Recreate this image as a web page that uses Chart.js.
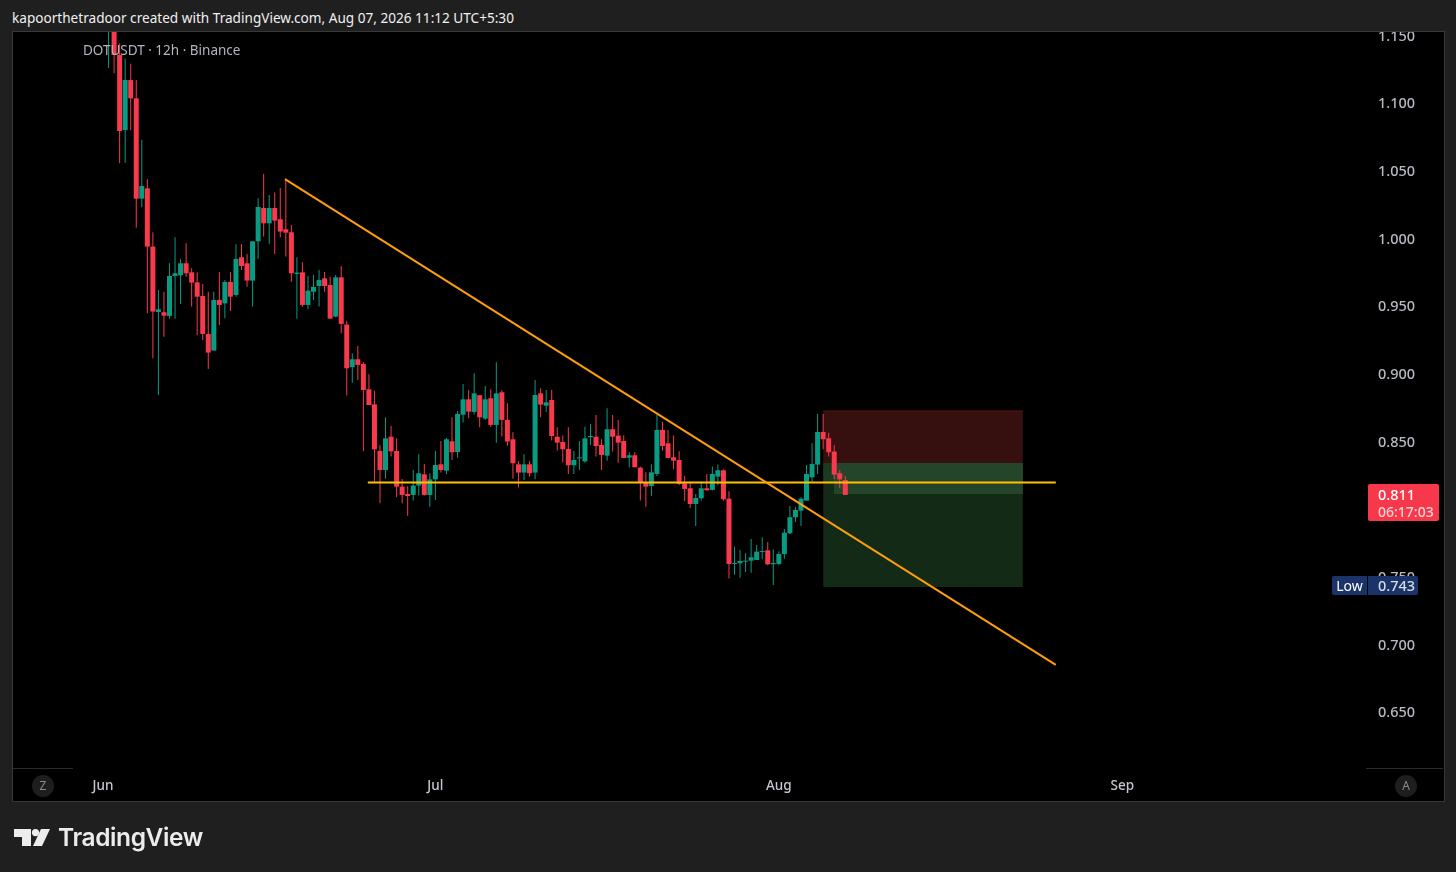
<!DOCTYPE html>
<html><head><meta charset="utf-8">
<style>
html,body{margin:0;padding:0;background:#1f1f1f;width:1456px;height:872px;overflow:hidden;font-family:"Noto Sans",Roboto,sans-serif}
.abs{position:absolute;white-space:nowrap}
#panel{left:12px;top:31px;width:1431px;height:769px;border:1px solid #383838;background:#000;overflow:hidden}
#panel canvas{position:absolute;left:0;top:0}
</style></head><body>
<div class="abs" style="left:12px;top:9px;font-size:13.6px;line-height:18px;color:#f0f0f0">kapoorthetradoor created with TradingView.com, Aug 07, 2026 11:12 UTC+5:30</div>
<div id="panel" class="abs"><canvas id="c" width="1431" height="769"></canvas></div>
<div class="abs" style="left:83px;top:41px;font-size:13.5px;line-height:18px;color:#b2b5be">DOTUSDT · 12h · Binance</div>
<div class="abs" style="left:13px;top:768px;width:60px;height:1px;background:#2a2a2a"></div>
<div class="abs" style="left:1366px;top:768px;width:77px;height:1px;background:#2a2a2a"></div>
<div class="abs" style="left:32px;top:775px;width:22px;height:22px;border-radius:11px;background:#1e1e1e;color:#8a8a8a;font-size:12px;line-height:22px;text-align:center">Z</div>
<div class="abs" style="left:1395px;top:775px;width:22px;height:22px;border-radius:11px;background:#1e1e1e;color:#8a8a8a;font-size:12px;line-height:22px;text-align:center">A</div>
<div class="abs" style="left:1368px;top:484px;width:71px;height:37px;border-radius:2px;background:#f7374a;color:#fff;font-size:14.5px;line-height:17px;font-weight:500"><div style="padding:2px 0 0 10px">0.811</div><div style="padding-left:10px;color:#ffd3d7;font-size:14px">06:17:03</div></div>
<div class="abs" style="left:1332px;top:576px;width:35px;height:19px;border-radius:2px 0 0 2px;background:#1a3368;color:#fff;font-size:14px;line-height:19px;text-align:center">Low</div>
<div class="abs" style="left:1368px;top:576px;width:50px;height:19px;border-radius:0 2px 2px 0;background:#1a3368;color:#d8dce6;font-size:14.5px;line-height:19px;font-weight:500;text-indent:10px">0.743</div>
<svg class="abs" style="left:14px;top:828px" width="38" height="19" viewBox="0 0 38 19"><path fill="#ececec" d="M0 1H17V18H8V9H0Z"/><circle fill="#ececec" cx="21.5" cy="4.6" r="3.6"/><path fill="#ececec" d="M27 1H36L28 18H19Z"/></svg>
<div class="abs" style="left:58px;top:822px;font-size:24.5px;line-height:30px;font-weight:600;color:#ececec;font-family:Inter,Roboto,sans-serif;letter-spacing:-.4px">TradingView</div>
<script src="https://cdn.jsdelivr.net/npm/chart.js@4/dist/chart.umd.min.js"></script>
<script>
const firstBar = 1;
const opens = [1.18,1.17,1.1355,1.0801,1.117,1.1035,1.0294,1.037,.994,.9457,.9455,.9428,.9723,.9728,.9817,.975,.9676,.9575,.9295,.9172,.9546,.9521,.9679,.9583,.9861,.9817,.9689,.9979,1.0225,1.0112,1.0225,1.0142,1.0068,1.0046,.9738,.975,.9509,.9607,.9649,.9706,.9657,.9423,.9713,.9364,.905,.9108,.9073,.8886,.8775,.8431,.829,.8536,.8431,.8167,.8113,.8106,.8175,.8258,.8106,.8221,.8332,.8285,.8502,.8423,.8699,.8812,.8719,.8842,.8669,.882,.8623,.8864,.866,.8517,.8332,.8271,.8332,.8271,.8856,.8765,.8807,.8536,.8497,.8445,.8325,.8376,.8354,.8532,.8536,.8475,.8396,.8591,.8544,.8504,.8381,.8399,.8307,.8197,.8172,.8261,.8586,.8487,.8384,.8364,.8192,.8155,.8039,.8081,.8155,.8143,.8241,.8288,.8078,.7596,.7601,.7613,.762,.7625,.7684,.7697,.7594,.7596,.767,.7822,.7941,.799,.8064,.8236,.833,.8571,.8524,.8426,.8266,.8216];
const highs = [1.21,1.18,1.144,1.133,1.129,1.117,1.073,1.0437,1.0046,.962,.9607,.9817,1.0009,.9851,.9964,.978,.9748,.9664,.9607,.9607,.9753,.9694,.9753,.9957,.9957,.9886,.9979,1.0297,1.0476,1.0321,1.0339,1.0373,1.0437,1.01,.9861,.9824,.9723,.973,.9767,.9753,.9718,.973,.9797,.9393,.9152,.9206,.9088,.8997,.8876,.8472,.8679,.8615,.8524,.8224,.8172,.829,.8406,.8335,.8266,.8431,.8504,.8527,.8679,.8726,.8925,.8881,.9004,.8842,.8911,.8886,.9085,.8881,.8783,.8568,.8354,.8406,.8357,.8955,.8893,.8881,.8881,.8606,.8544,.8605,.8431,.8504,.861,.863,.8696,.8517,.8746,.8696,.8659,.8546,.8421,.8421,.8315,.8273,.833,.8696,.8647,.8586,.8544,.8428,.8246,.8204,.8113,.8204,.8261,.8315,.833,.8295,.8133,.7724,.7699,.7675,.7781,.7736,.7793,.7758,.7704,.7689,.7855,.8024,.8019,.8088,.8327,.8487,.8704,.8704,.8566,.8472,.829,.8246];
const lows = [1.126,1.122,1.0555,1.056,1.08,1.008,1.023,.9447,.9115,.8844,.9275,.9408,.9408,.9516,.9718,.9497,.9287,.925,.9036,.9172,.9361,.941,.9465,.957,.9767,.9644,.9497,.9851,1.0014,.9959,.9886,1.0009,.9866,.9681,.9408,.9497,.9477,.9546,.9497,.9607,.9408,.9418,.93,.884,.8935,.8955,.8428,.877,.8197,.8044,.8226,.8389,.8088,.8044,.7953,.8064,.8101,.8101,.8019,.8069,.8271,.8261,.8364,.8381,.864,.8674,.8699,.8605,.866,.861,.8492,.8537,.8468,.8226,.816,.8216,.8241,.8221,.8679,.8719,.8507,.8433,.8345,.8261,.8261,.829,.8344,.8475,.8389,.829,.8359,.8426,.8344,.8379,.831,.831,.8064,.8019,.8098,.8246,.8433,.8379,.8295,.8177,.8061,.8009,.7877,.8064,.8138,.8138,.8177,.8064,.7488,.7517,.7495,.7537,.7532,.7625,.763,.7586,.7441,.7586,.7635,.7817,.7906,.7877,.8064,.8197,.8261,.8443,.8389,.8221,.8157,.8106];
const closes = [1.2,1.1355,1.0794,1.1171,1.1035,1.0294,1.0388,.994,.946,.9477,.943,.9723,.9743,.9817,.9743,.9674,.957,.9295,.9157,.9546,.9509,.9679,.957,.9849,.9797,.9689,.9979,1.0233,1.0112,1.0225,1.0132,1.0051,1.0043,.9743,.9748,.9509,.9615,.9642,.9694,.9649,.9408,.9713,.9369,.9041,.9108,.9066,.8881,.877,.8443,.829,.8524,.8428,.8167,.8106,.8098,.8175,.8266,.8106,.8221,.8327,.829,.8517,.8421,.8704,.8812,.8721,.8856,.8679,.8812,.8623,.8856,.866,.85,.834,.8271,.8332,.8266,.8844,.8773,.879,.8541,.8492,.8443,.8325,.8364,.8381,.8524,.8541,.8467,.8401,.8591,.8536,.8492,.8379,.8399,.831,.8197,.8167,.8273,.8586,.8467,.8379,.8359,.8187,.815,.8039,.8083,.8155,.814,.8261,.8288,.8074,.7596,.7603,.7618,.762,.7645,.7687,.7689,.7594,.7603,.767,.7827,.7941,.7995,.8078,.8261,.8335,.8571,.8517,.8421,.8256,.8221,.8106];
const monthTicks = [0,60,122,184];
const monthLabels = ['Jun','Jul','Aug','Sep'];
const trendX = [32.85,172]; const trendY = [1.0439,.685];
const levelX = [47.8,172]; const levelY = [.8198,.8198];
const riskX = [130,166.06]; const riskTop = .8726; const entry = .8342; const target = .7426;
const bandBottom = .8202;
const openX = [131.95,166.06]; const openBottom = .8113;
const yMin=.6089, yMax=1.1525, xMin=-16.25, xMax=228;

const up='#0a9b83', down='#f83a4c';
const idx=opens.map((_,i)=>i+firstBar);
const colors=opens.map((o,i)=>closes[i]>=o?up:down);
const bx=(ord,xs,top,bot,bg,border)=>({type:'line',order:ord,data:xs.map(x=>({x,y:top})),fill:{value:bot},backgroundColor:bg,borderColor:border,borderWidth:border==='transparent'?0:1,pointRadius:0,tension:0});
const ln=(xs,ys,c,w)=>({type:'line',order:1,data:xs.map((x,i)=>({x,y:ys[i]})),borderColor:c,borderWidth:w,pointRadius:0,fill:false,tension:0});
const noPad=s=>{s.paddingTop=s.paddingBottom=s.paddingLeft=s.paddingRight=0;};
new Chart(document.getElementById('c'),{
 type:'bar',
 data:{datasets:[
  {order:3,grouped:false,barThickness:1,inflateAmount:0,borderWidth:0,backgroundColor:colors,data:idx.map((x,i)=>({x,y:[lows[i],highs[i]]}))},
  {order:2,grouped:false,barThickness:5,inflateAmount:0,minBarLength:1,borderWidth:0,backgroundColor:colors,data:idx.map((x,i)=>({x,y:[opens[i],closes[i]]}))},
  bx(7,riskX,riskTop,entry,'#360f0f','#5a1414'),
  bx(7,riskX,entry,target,'#122a16','transparent'),
  bx(6,riskX,entry,bandBottom,'#1c3a20','transparent'),
  bx(5,openX,entry,openBottom,'#24452a','transparent'),
  ln(trendX,trendY,'#ff9d0a',2),
  ln(levelX,levelY,'#ffc107',2)
 ]},
 options:{responsive:false,animation:false,devicePixelRatio:1,
  layout:{padding:0},
  plugins:{legend:{display:false},tooltip:{enabled:false},title:{display:false}},
  scales:{
   x:{type:'linear',min:xMin,max:xMax,offset:false,grid:{display:false,drawTicks:false},border:{display:false},
      afterFit(s){s.height=33;noPad(s);},
      afterBuildTicks(s){s.ticks=monthTicks.map(v=>({value:v}));},
      ticks:{autoSkip:false,maxRotation:0,padding:10,color:'#c4c7cf',font:{family:'Noto Sans',size:13.5,weight:'500'},
        callback:v=>monthLabels[monthTicks.indexOf(v)]}},
   y:{position:'right',min:yMin,max:yMax,grid:{display:false,drawTicks:false},border:{display:false},
      afterFit(s){s.width=78;noPad(s);},
      ticks:{includeBounds:false,stepSize:.05,padding:12,labelOffset:1,color:'#b7bac2',font:{family:'Noto Sans',size:14.5,weight:'500'},
        callback:v=>v.toFixed(3)}}
  }
 }
});
</script>
</body></html>
